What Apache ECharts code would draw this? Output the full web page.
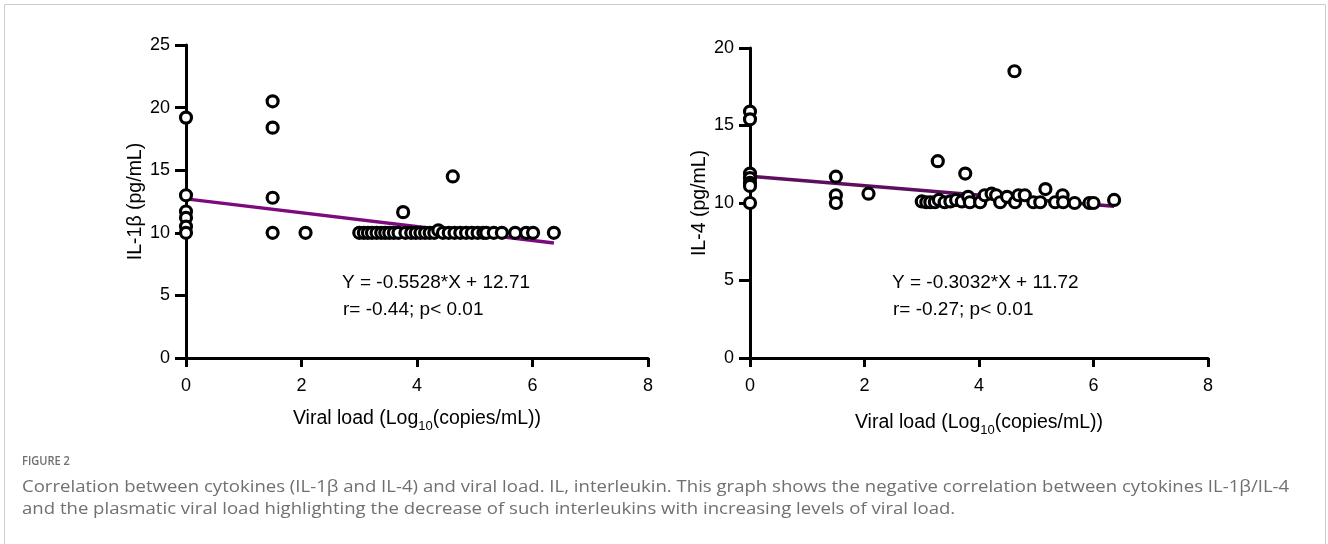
<!DOCTYPE html>
<html>
<head>
<meta charset="utf-8">
<script src="https://cdn.jsdelivr.net/npm/echarts@6/dist/echarts.min.js"></script>
<style>
html,body{margin:0;padding:0;background:#fff;}
#c{width:1328px;height:544px;}
</style>
</head>
<body>
<div id="c"></div>
<script>
// ---- Data ----
const xTicks = [0, 2, 4, 6, 8];
const il1bTicks = [0, 5, 10, 15, 20, 25];
const il4Ticks = [0, 5, 10, 15, 20];

// IL-1β vs viral load: [log10 copies/mL, pg/mL]
const il1bPoints = [
  [0, 19.2], [0, 13.0], [0, 11.7], [0, 11.2], [0, 10.5], [0, 10.0],
  [1.5, 20.5], [1.5, 18.4], [1.5, 12.8], [1.5, 10.0],
  [2.07, 10.0],
  [3.0, 10.0], [3.08, 10.0], [3.15, 10.0], [3.22, 10.0], [3.3, 10.0], [3.38, 10.0],
  [3.45, 10.0], [3.52, 10.0], [3.6, 10.0], [3.68, 10.0], [3.76, 11.65], [3.8, 10.0],
  [3.9, 10.0], [3.98, 10.0], [4.06, 10.0], [4.14, 10.0], [4.22, 10.0], [4.3, 10.0],
  [4.37, 10.2], [4.45, 10.0], [4.55, 10.0], [4.62, 14.5], [4.65, 10.0], [4.75, 10.0],
  [4.85, 10.0], [4.95, 10.0], [5.05, 10.0], [5.15, 10.0], [5.2, 10.0], [5.33, 10.0],
  [5.47, 10.0], [5.7, 10.0], [5.89, 10.0], [6.01, 10.0], [6.37, 10.0]
];
const il1bFit = [[0, 12.71], [6.37, 9.19]];
const il1bEq = 'Y = -0.5528*X + 12.71';
const il1bStat = 'r= -0.44; p< 0.01';

// IL-4 vs viral load
const il4Points = [
  [0, 15.9], [0, 15.4], [0, 11.9], [0, 11.6], [0, 11.3], [0, 11.1], [0, 10.0],
  [1.5, 11.7], [1.5, 10.5], [1.5, 10.0],
  [2.07, 10.6],
  [3.0, 10.1], [3.08, 10.05], [3.15, 10.05], [3.23, 10.05], [3.28, 12.7], [3.3, 10.2],
  [3.4, 10.05], [3.5, 10.1], [3.6, 10.2], [3.7, 10.1], [3.76, 11.9], [3.81, 10.4],
  [3.84, 10.05], [4.02, 10.05], [4.1, 10.5], [4.22, 10.6], [4.3, 10.5], [4.37, 10.05],
  [4.49, 10.4], [4.62, 18.5], [4.63, 10.05], [4.69, 10.5], [4.8, 10.5], [4.95, 10.05],
  [5.07, 10.05], [5.16, 10.9], [5.33, 10.05], [5.46, 10.5], [5.47, 10.05], [5.67, 10.0],
  [5.93, 10.0], [6.0, 10.0], [6.36, 10.2]
];
const il4Fit = [[0, 11.72], [6.36, 9.79]];
const il4Eq = 'Y = -0.3032*X + 11.72';
const il4Stat = 'r= -0.27; p< 0.01';

const captionHead = 'FIGURE 2';
const captionLines = [
  'Correlation between cytokines (IL-1β and IL-4) and viral load. IL, interleukin. This graph shows the negative correlation between cytokines IL-1β/IL-4',
  'and the plasmatic viral load highlighting the decrease of such interleukins with increasing levels of viral load.'
];

// ---- Chart ----
const FONT = 'Liberation Sans';
const chart = echarts.init(document.getElementById('c'));

function xAxisDef(gridIndex, gap) {
  return {
    type: 'value', gridIndex, min: xTicks[0], max: xTicks[xTicks.length - 1], interval: 2,
    axisLine: { onZero: false, lineStyle: { color: '#000', width: 3 } },
    axisTick: { show: true, length: 9, lineStyle: { color: '#000', width: 3 } },
    axisLabel: { color: '#000', fontSize: 18, fontFamily: FONT, margin: 19 },
    splitLine: { show: false },
    name: '{a|Viral load (Log}{s|10}{a|(copies/mL))}',
    nameLocation: 'middle', nameGap: gap,
    nameTextStyle: {
      rich: {
        a: { fontSize: 19.5, fontFamily: FONT, color: '#000', lineHeight: 24, verticalAlign: 'bottom' },
        s: { fontSize: 13, fontFamily: FONT, color: '#000', lineHeight: 24, verticalAlign: 'bottom', padding: [0, 0, -4, 0] }
      }
    }
  };
}
function yAxisDef(gridIndex, ticks, name) {
  return {
    type: 'value', gridIndex, min: ticks[0], max: ticks[ticks.length - 1], interval: 5,
    axisLine: { onZero: false, lineStyle: { color: '#000', width: 3 } },
    axisTick: { show: true, length: 11, lineStyle: { color: '#000', width: 3 } },
    axisLabel: { color: '#000', fontSize: 18, fontFamily: FONT, margin: 16 },
    splitLine: { show: false },
    name, nameLocation: 'middle', nameGap: 37,
    nameTextStyle: { fontSize: 19.5, fontFamily: FONT, color: '#000' }
  };
}
const pointStyle = { color: '#fff', borderColor: '#000', borderWidth: 3.2, opacity: 1 };

chart.setOption({
  animation: false,
  backgroundColor: '#fff',
  grid: [
    { left: 186, top: 45, width: 462, height: 313 },
    { left: 750, top: 48, width: 458, height: 310 }
  ],
  xAxis: [xAxisDef(0, 47), xAxisDef(1, 51)],
  yAxis: [yAxisDef(0, il1bTicks, 'IL-1β (pg/mL)'), yAxisDef(1, il4Ticks, 'IL-4 (pg/mL)')],
  series: [
    { type: 'line', xAxisIndex: 0, yAxisIndex: 0, data: il1bFit, symbol: 'none',
      lineStyle: { color: '#7d0a7d', width: 3.5 }, z: 1 },
    { type: 'scatter', xAxisIndex: 0, yAxisIndex: 0, data: il1bPoints, symbol: 'circle',
      symbolSize: 11, itemStyle: pointStyle, clip: false, z: 3 },
    { type: 'line', xAxisIndex: 1, yAxisIndex: 1, data: il4Fit, symbol: 'none',
      lineStyle: { color: '#5e0e5e', width: 3.5 }, z: 1 },
    { type: 'scatter', xAxisIndex: 1, yAxisIndex: 1, data: il4Points, symbol: 'circle',
      symbolSize: 11, itemStyle: pointStyle, clip: false, z: 3 }
  ],
  graphic: [
    { type: 'rect', shape: { x: 4.5, y: 4.5, width: 1321, height: 620 },
      style: { fill: 'none', stroke: '#cccccc', lineWidth: 1 }, silent: true },
    { type: 'text', x: 342, y: 283, style: { text: il1bEq, font: '19px "Liberation Sans"', fill: '#000', textVerticalAlign: 'middle' } },
    { type: 'text', x: 343, y: 310, style: { text: il1bStat, font: '19px "Liberation Sans"', fill: '#000', textVerticalAlign: 'middle' } },
    { type: 'text', x: 892, y: 283, style: { text: il4Eq, font: '19px "Liberation Sans"', fill: '#000', textVerticalAlign: 'middle' } },
    { type: 'text', x: 893, y: 310, style: { text: il4Stat, font: '19px "Liberation Sans"', fill: '#000', textVerticalAlign: 'middle' } },
    { type: 'text', x: 22, y: 461, scaleX: 0.85, style: { text: captionHead, font: '600 13px "Open Sans"', fill: '#707070', textVerticalAlign: 'middle' } },
    { type: 'text', x: 22, y: 487, scaleX: 1.125, style: { text: captionLines[0], font: '16.5px "Open Sans"', fill: '#707070', textVerticalAlign: 'middle' } },
    { type: 'text', x: 22, y: 509, scaleX: 1.125, style: { text: captionLines[1], font: '16.5px "Open Sans"', fill: '#707070', textVerticalAlign: 'middle' } }
  ]
});
</script>
</body>
</html>
